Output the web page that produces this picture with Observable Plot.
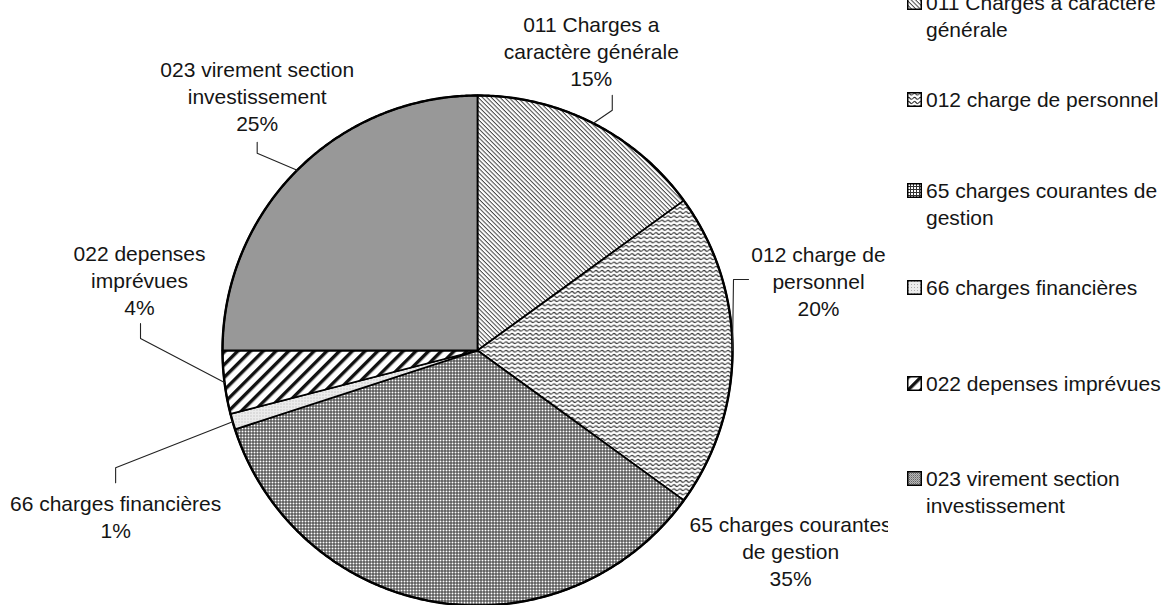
<!DOCTYPE html>
<html><head><meta charset="utf-8">
<script src="https://cdn.jsdelivr.net/npm/d3@7"></script>
<script src="https://cdn.jsdelivr.net/npm/@observablehq/plot@0.6"></script>
<style>
html,body{margin:0;padding:0;background:#fff;overflow:hidden;}
#wrap{position:relative;width:1166px;height:605px;overflow:hidden;font-family:"Liberation Sans",Arial,sans-serif;}
#chart{position:absolute;left:0;top:0;}
#chart svg{overflow:hidden;}
.leg{position:absolute;left:907px;font-size:21px;line-height:27px;color:#151515;display:flex;align-items:flex-start;white-space:pre;}
.leg svg{flex:none;margin-top:6px;margin-right:4px;}
</style></head><body>
<svg width="0" height="0" style="position:absolute">
<defs>
  <pattern id="p011" patternUnits="userSpaceOnUse" width="6" height="3.1" patternTransform="rotate(45)">
    <rect width="6" height="3.1" fill="#fff"/><rect y="0" width="6" height="1" fill="#444"/>
  </pattern>
  <pattern id="p012" patternUnits="userSpaceOnUse" width="6" height="4.2">
    <rect width="6" height="4.2" fill="#fff"/>
    <path d="M0 2.1 Q1.5 0.3 3 2.1 T6 2.1" fill="none" stroke="#222" stroke-width="1"/>
  </pattern>
  <pattern id="p65" patternUnits="userSpaceOnUse" width="3" height="3">
    <rect width="3" height="3" fill="#fff"/><rect width="3" height="1" fill="#333"/><rect width="1" height="3" fill="#333"/>
  </pattern>
  <pattern id="p66" patternUnits="userSpaceOnUse" width="3" height="3">
    <rect width="3" height="3" fill="#ececec"/><rect x="1" y="1" width="1" height="1" fill="#aaa"/>
  </pattern>
  <pattern id="p022" patternUnits="userSpaceOnUse" width="10" height="9" patternTransform="rotate(-45)">
    <rect width="10" height="9" fill="#fff"/><rect y="0" width="10" height="3.4" fill="#111"/>
  </pattern>
  <pattern id="p023" patternUnits="userSpaceOnUse" width="2" height="2">
    <rect width="2" height="2" fill="#b8b8b8"/><rect width="1" height="1" fill="#666"/><rect x="1" y="1" width="1" height="1" fill="#8a8a8a"/>
  </pattern>
</defs></svg>
<div id="wrap"><div id="chart"></div><div id="legend"></div></div>
<script>
// ---- data ----
const codes = ["011", "012", "65", "66", "022", "023"];
const shares = [15, 20, 35, 1, 4, 25];
const pieLabels = [
  "011 Charges a\ncaractère générale",
  "012 charge de\npersonnel",
  "65 charges courantes\nde gestion",
  "66 charges financières",
  "022 depenses\nimprévues",
  "023 virement section\ninvestissement"
];
const legendLabels = [
  "011 Charges a caractère\ngénérale",
  "012 charge de personnel",
  "65 charges courantes de\ngestion",
  "66 charges financières",
  "022 depenses imprévues",
  "023 virement section\ninvestissement"
];

// ---- layout / style (kept apart from data) ----
const patterns = {"011": "url(#p011)", "012": "url(#p012)", "65": "url(#p65)", "66": "url(#p66)", "022": "url(#p022)", "023": "url(#p023)"};
const W = 888, H = 605, CX = 477, CY = 350, R = 255;
// label centre offset from slice mid-edge point (px)
const labelOffset = {"011": [-2, -73], "012": [86, -70], "65": [353, -52], "66": [-117, 94], "022": [-85, -103], "023": [-40, -75]};
// leader polyline offsets from slice mid-edge point (px)
const leaderOffset = {
  "011": [[19, -13], [19, -28]],
  "012": [[1, -71], [16, -71]],
  "66": [[-117, 46], [-117, 61]],
  "022": [[-84, -44], [-84, -59]],
  "023": [[-40, -17], [-40, -28]]
};
const legendTop = {"011": 2, "012": 99, "65": 190, "66": 287, "022": 383, "023": 478};

// ---- pie geometry from data ----
const total = d3.sum(shares);
let cum = 0;
const slices = codes.map((c, i) => {
  const a0 = cum / total * 2 * Math.PI;
  cum += shares[i];
  const a1 = cum / total * 2 * Math.PI;
  return {code: c, a0, a1, mid: (a0 + a1) / 2, pct: Math.round(shares[i] / total * 100), label: pieLabels[i]};
});
const polar = (a, r = 1) => ({x: r * Math.sin(a), y: r * Math.cos(a)});

const marks = [];
for (const s of slices) {
  const n = Math.max(4, Math.ceil((s.a1 - s.a0) / (Math.PI / 360)));
  const pts = [{x: 0, y: 0}];
  for (let k = 0; k <= n; k++) pts.push(polar(s.a0 + (s.a1 - s.a0) * k / n));
  marks.push(Plot.line(pts, {x: "x", y: "y", curve: "linear-closed", fill: patterns[s.code], stroke: "#000", strokeWidth: 1.8, strokeLinejoin: "round"}));
}
const circle = d3.range(0, 721).map(k => polar(k / 720 * 2 * Math.PI));
marks.push(Plot.line(circle, {x: "x", y: "y", curve: "linear-closed", stroke: "#000", strokeWidth: 2.4}));

const leaders = [];
const labels = [];
for (const s of slices) {
  const e = polar(s.mid);
  const lo = labelOffset[s.code];
  labels.push({x: e.x + lo[0] / R, y: e.y - lo[1] / R, text: s.label + "\n" + s.pct + "%"});
  const lead = leaderOffset[s.code];
  if (lead) {
    leaders.push({key: s.code, x: e.x, y: e.y});
    for (const p of lead) leaders.push({key: s.code, x: e.x + p[0] / R, y: e.y - p[1] / R});
  }
}
marks.push(Plot.line(leaders, {x: "x", y: "y", z: "key", stroke: "#222", strokeWidth: 1.1}));
marks.push(Plot.text(labels, {x: "x", y: "y", text: "text", fontSize: 21, lineHeight: 1.29, textAnchor: "middle", lineAnchor: "middle", fill: "#151515", fontFamily: "Liberation Sans, Arial, sans-serif"}));

const plot = Plot.plot({
  width: W, height: H,
  marginLeft: 0, marginRight: 0, marginTop: 0, marginBottom: 0,
  x: {domain: [-CX / R, (W - CX) / R], axis: null},
  y: {domain: [-(H - CY) / R, CY / R], axis: null},
  style: {background: "transparent", overflow: "hidden"},
  marks
});
document.getElementById("chart").appendChild(plot);

// ---- legend ----
const leg = document.getElementById("legend");
codes.forEach((c, i) => {
  const d = document.createElement("div");
  d.className = "leg";
  d.style.top = (legendTop[c] - 13.5) + "px";
  d.innerHTML = `<svg width="15" height="15"><rect x="0.75" y="0.75" width="13.5" height="13.5" fill="${patterns[c]}" stroke="#000" stroke-width="1.5"/></svg>`;
  const t = document.createElement("span");
  t.textContent = legendLabels[i];
  d.appendChild(t);
  leg.appendChild(d);
});
</script>
</body></html>
